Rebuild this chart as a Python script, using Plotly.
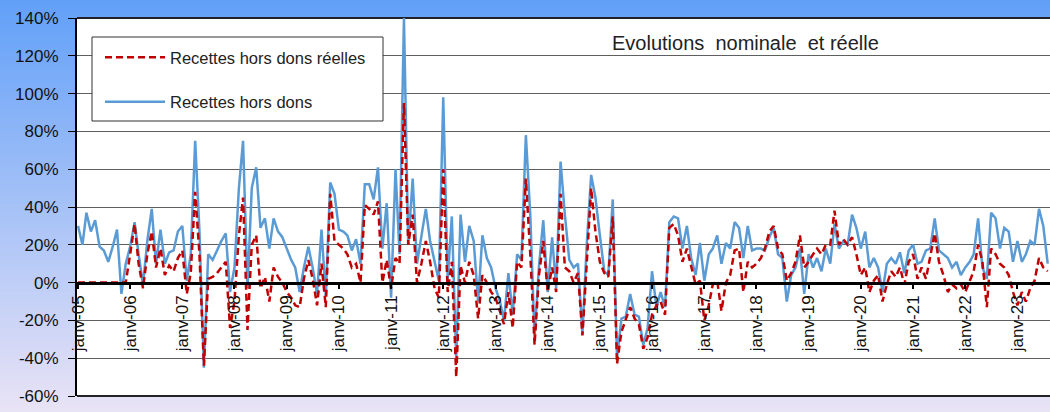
import pandas as pd
import plotly.graph_objects as go

# monthly observations, janv-05 .. août-23 (growth rates in %)
months = pd.date_range("2005-01-01", periods=224, freq="MS")

recettes_hors_dons = [
    30, 20, 37, 27, 33, 19, 17, 11, 19, 28, -6, 10,       # 2005
    19, 32, 15, -1, 22, 39, 10, 28, 10, 16, 17, 27,       # 2006
    30, 1, 15, 75, 27, -45, 15, 12, 17, 22, 26, -5,       # 2007
    8, 50, 75, -3, 50, 61, 29, 34, 18, 34, 27, 24,        # 2008
    18, 12, 8, -5, 8, 19, 8, -6, 28, -7, 53, 47,          # 2009
    28, 27, 25, 17, 23, 10, 52, 52, 44, 61, 18, 42,       # 2010
    -8, 60, 15, 140, 20, 55, 10, 25, 39, 22, 11, 1,       # 2011
    98, 2, 35, -40, 36, 11, 30, 22, -10, 25, 13, 8,       # 2012
    -3, -10, -20, 5, -17, 15, 12, 78, 36, -29, 9, 33,     # 2013
    -5, 24, -3, 64, 36, 12, 8, 10, -27, 20, 57, 45,       # 2014
    25, 6, 4, 44, -40, -19, -18, -6, -17, -18, -33, -24,  # 2015
    6, -13, -5, -13, 32, 35, 34, 18, 30, 13, 4, 21,       # 2016
    1, 15, 18, 25, 10, 21, 18, 32, 29, 13, 30, 17,        # 2017
    18, 18, 17, 24, 29, 15, 13, -10, 4, 8, 18, -6,        # 2018
    15, 8, 13, 6, 18, 10, 31, 18, 22, 20, 36, 29,         # 2019
    18, 27, 8, 13, 8, -5, 10, 13, 10, 16, 5, 17,          # 2020
    20, 10, 11, 17, 18, 34, 17, 15, 13, 8, 11, 4,         # 2021
    8, 11, 15, 34, 8, 2, 37, 34, 18, 29, 27, 11,          # 2022
    22, 11, 15, 22, 20, 39, 30, 10,                       # 2023
]

recettes_reelles = [
    0, 0, 0, 0, 0, 0, 0, 0, 0, 0, 0, 0,                   # 2005
    15, 31, 10, -3, 15, 27, 8, 18, 4, 9, 6, 13,           # 2006
    17, -6, 5, 48, 15, -44, 2, 3, 5, 8, 11, -24,          # 2007
    -10, 25, 45, -25, 20, 25, -3, 3, -10, 8, 3, 0,        # 2008
    -5, -8, -12, -13, 2, 12, 2, -12, 10, -13, 47, 22,     # 2009
    20, 18, 15, 8, 10, 0, 41, 39, 36, 43, 0, 12,          # 2010
    -3, 13, 10, 95, 20, 36, 0, 10, 22, 11, -3, -8,        # 2011
    60, -5, 11, -50, 9, 0, 11, 4, -19, 4, 0, -5,          # 2012
    -8, -15, -22, -5, -24, 11, 8, 55, 15, -33, 4, 22,     # 2013
    -5, 8, -5, 47, 8, 6, 0, 5, -28, 10, 50, 27,           # 2014
    11, 5, 3, 35, -43, -26, -20, -13, -19, -22, -35, -29, # 2015
    -17, -12, -10, -17, 29, 31, 25, 11, 18, 8, -1, 1,     # 2016
    -20, -12, -1, 1, -15, 0, 4, 17, 18, -5, 11, 8,        # 2017
    10, 13, 18, 27, 30, 18, 15, 1, 5, 11, 25, 8,          # 2018
    11, 15, 18, 15, 20, 20, 38, 20, 23, 20, 24, 15,       # 2019
    4, 8, -5, 1, 4, -10, -1, 6, 3, 8, -1, 11,             # 2020
    15, 2, 8, 2, 13, 26, 11, 4, -5, -1, -3, -1,           # 2021
    -5, 1, 6, 20, 11, -13, 18, 15, 10, 8, 4, -5,          # 2022
    -12, -5, -10, -3, 1, 13, 8, 6,                        # 2023
]

year_ticks = pd.date_range("2005-01-01", "2023-01-01", freq="YS")
year_labels = ["janv-%02d" % (d.year % 100) for d in year_ticks]

y_ticks = list(range(-60, 141, 20))
y_labels = ["%d%%" % v for v in y_ticks]

W, H = 1050, 412
L, R, T, B = 77, 0, 18, 16
PW, PH = W - L - R, H - T - B


def px_x(x):
    return (x - L) / PW


def px_y(y):
    return (H - B - y) / PH


FONT = "Liberation Sans, Arial, sans-serif"

fig = go.Figure()

fig.add_trace(go.Scatter(x=months, y=recettes_hors_dons, mode="lines",
                         name="Recettes hors dons",
                         legendgroup="b", legendrank=2,
                         line=dict(color="#5B9BD5", width=2.5)))
fig.add_trace(go.Scatter(x=months, y=recettes_reelles, mode="lines",
                         name="Recettes hors dons réelles",
                         legendgroup="a", legendrank=1,
                         line=dict(color="#C00000", width=2.5, dash="7px,4px")))

# background gradient (blue at the top to lavender at the bottom)
shapes = []
n = 103
top_c = (98, 160, 248)
bot_c = (233, 227, 246)
for i in range(n):
    t = i / (n - 1)
    c = tuple(int(round(a + (b - a) * t)) for a, b in zip(top_c, bot_c))
    y0 = i * H / n
    y1 = (i + 1) * H / n + 0.5
    shapes.append(dict(type="rect", xref="paper", yref="paper", layer="below",
                       x0=px_x(0), x1=px_x(W + 2), y0=px_y(y1), y1=px_y(y0),
                       line=dict(width=0), fillcolor="rgb(%d,%d,%d)" % c))
shapes.append(dict(type="rect", xref="paper", yref="paper", layer="below",
                   x0=0, x1=1.01, y0=0, y1=1, line=dict(width=0), fillcolor="white"))
# frame of the plot area
for yy in (0, 1):
    shapes.append(dict(type="line", xref="paper", yref="paper", layer="below",
                       x0=0, x1=1.01, y0=yy, y1=yy, line=dict(color="#222", width=2)))
# legend box
shapes.append(dict(type="rect", xref="paper", yref="paper", layer="above",
                   x0=px_x(92), x1=px_x(383), y0=px_y(121), y1=px_y(37),
                   line=dict(color="#333", width=1), fillcolor="white"))

fig.update_layout(
    width=W, height=H,
    template="none",
    margin=dict(l=L, r=R, t=T, b=B, pad=0),
    paper_bgcolor="#e6e1f5",
    plot_bgcolor="white",
    font=dict(family=FONT, color="black"),
    shapes=shapes,
    showlegend=True,
    legend=dict(x=px_x(100), y=px_y(40), xanchor="left", yanchor="top",
                bgcolor="rgba(0,0,0,0)", borderwidth=0,
                traceorder="grouped", tracegroupgap=20, itemwidth=60,
                font=dict(family=FONT, size=16.5, color="#222")),
    annotations=[dict(text="Evolutions  nominale  et réelle", xref="paper", yref="paper",
                      x=px_x(745), y=px_y(43), xanchor="center", yanchor="middle",
                      showarrow=False,
                      font=dict(family=FONT, size=20, color="#222"))],
)

fig.update_xaxes(type="date", range=["2004-12-25", "2023-08-17"],
                 anchor="free", position=0.3,
                 showline=True, linecolor="black", linewidth=3,
                 showgrid=False, zeroline=False,
                 ticks="outside", ticklen=4, tickwidth=2, tickcolor="black",
                 tickvals=year_ticks, ticktext=year_labels, tickangle=-90,
                 tickfont=dict(family=FONT, size=17, color="#111"))
fig.update_yaxes(range=[-60, 140], tickvals=y_ticks, ticktext=y_labels,
                 showgrid=True, gridcolor="#5f5f5f", gridwidth=1,
                 showline=True, linecolor="black", linewidth=2,
                 zeroline=False,
                 ticks="outside", ticklen=7, tickcolor="black",
                 ticklabelstandoff=6,
                 tickfont=dict(family=FONT, size=17, color="#111"))

# the page's default body margin would shift the chart by 8px
fig.write_html("out.html", config={"displayModeBar": False},
               post_script="document.body.style.margin='0px';")
